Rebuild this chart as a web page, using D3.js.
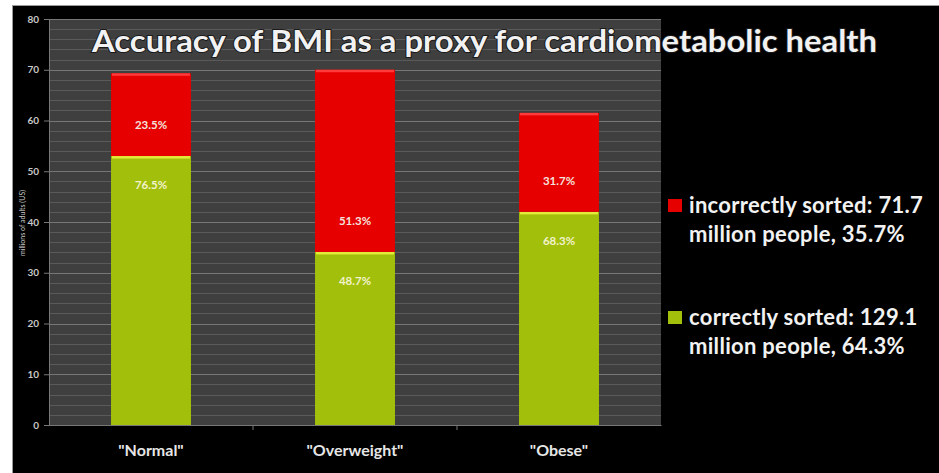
<!DOCTYPE html>
<html>
<head>
<meta charset="utf-8">
<script src="https://cdn.jsdelivr.net/npm/d3@7"></script>
<style>
  html, body { margin: 0; padding: 0; background: #fff; }
  svg { display: block; }
</style>
</head>
<body>
<svg id="chart" width="939" height="473"></svg>
<script>
// BMI categories and the adults (millions, US) in each, split by whether
// BMI sorted them correctly with respect to cardiometabolic health.
const categories = ['"Normal"', '"Overweight"', '"Obese"'];
const correctlySorted = [53.0, 34.1, 42.0];
const incorrectlySorted = [16.3, 35.9, 19.5];
const seriesNames = ["correctly sorted", "incorrectly sorted"];
const yTicks = [0, 10, 20, 30, 40, 50, 60, 70, 80];
const yMinorTicks = d3.range(0, 81, 2);
const titleText = "Accuracy of BMI as a proxy for cardiometabolic health";
const yAxisTitle = "millions of adults (US)";

const GREEN = "#a2bf0c", GREEN_TOP = "#e4ec3a";
const RED = "#e60000", RED_TOP = "#ff3a3a";
const FONT = "Lato, 'Open Sans', sans-serif";

const svg = d3.select("#chart");
const W = 939, H = 473;

// frame: white margin on top/left, black slide background
svg.append("rect").attr("width", W).attr("height", H).attr("fill", "#ffffff");
svg.append("rect").attr("x", 13).attr("y", 6).attr("width", W - 13).attr("height", H - 6).attr("fill", "#000");
svg.append("line").attr("x1", 12.5).attr("x2", 12.5).attr("y1", 6).attr("y2", H).attr("stroke", "#9a9a9a");
svg.append("line").attr("x1", 12).attr("x2", W).attr("y1", 5.5).attr("y2", 5.5).attr("stroke", "#9a9a9a");

const plot = { left: 49, right: 661, top: 19, bottom: 425 };

const y = d3.scaleLinear().domain([0, 80]).range([plot.bottom, plot.top]);
const x = d3.scaleBand().domain(categories).range([plot.left, plot.right])
  .paddingInner(0.608).paddingOuter(0.304);

// plot area
svg.append("rect")
  .attr("x", plot.left).attr("y", plot.top)
  .attr("width", plot.right - plot.left).attr("height", plot.bottom - plot.top)
  .attr("fill", "#3f3f3f");

// minor gridlines
svg.append("g").selectAll("line")
  .data(yMinorTicks.filter(v => v % 10 !== 0))
  .join("line")
  .attr("x1", plot.left).attr("x2", plot.right)
  .attr("y1", d => Math.round(y(d)) + 0.5).attr("y2", d => Math.round(y(d)) + 0.5)
  .attr("stroke", "#5a5a5a").attr("stroke-width", 1);

// major gridlines
svg.append("g").selectAll("line")
  .data(yTicks)
  .join("line")
  .attr("x1", plot.left).attr("x2", plot.right)
  .attr("y1", d => Math.round(y(d)) + 0.5).attr("y2", d => Math.round(y(d)) + 0.5)
  .attr("stroke", "#767676").attr("stroke-width", 1.2);

// y axis
const yAxis = svg.append("g")
  .attr("transform", `translate(${plot.left},0)`)
  .call(d3.axisLeft(y).tickValues(yTicks).tickSize(5).tickPadding(5));
yAxis.select(".domain").attr("stroke", "#777");
yAxis.selectAll(".tick line").attr("stroke", "#777");
yAxis.selectAll(".tick text")
  .attr("fill", "#c8c8c8")
  .attr("font-family", FONT)
  .attr("font-weight", "bold")
  .attr("font-size", 10);

svg.append("text")
  .attr("transform", `translate(25,${223}) rotate(-90)`)
  .attr("text-anchor", "middle")
  .attr("fill", "#c8c8c8")
  .attr("font-family", FONT)
  .attr("font-size", 7)
  .text(yAxisTitle);

// x axis: category separators and labels
const xAxis = svg.append("g")
  .attr("transform", `translate(0,${plot.bottom})`)
  .call(d3.axisBottom(x).tickSize(0).tickPadding(20));
xAxis.select(".domain").attr("stroke", "#777");
xAxis.selectAll(".tick text")
  .attr("fill", "#e6e6e6")
  .attr("font-family", FONT)
  .attr("font-weight", "bold")
  .attr("font-size", 16);
svg.append("g").selectAll("line")
  .data(categories.slice(1))
  .join("line")
  .attr("x1", d => x(d) - x.step() * x.paddingInner() / 2)
  .attr("x2", d => x(d) - x.step() * x.paddingInner() / 2)
  .attr("y1", plot.bottom).attr("y2", plot.bottom + 5)
  .attr("stroke", "#777");

// stacked bars
const rows = categories.map((c, i) => ({
  category: c,
  correct: correctlySorted[i],
  incorrect: incorrectlySorted[i]
}));
const stack = d3.stack().keys(["correct", "incorrect"])(rows);
const fills = { correct: GREEN, incorrect: RED };
const tops = { correct: GREEN_TOP, incorrect: RED_TOP };

const layers = svg.append("g").selectAll("g")
  .data(stack)
  .join("g");

layers.selectAll("rect.seg")
  .data(s => s.map(d => ({ key: s.key, d })))
  .join("rect")
  .attr("class", "seg")
  .attr("x", o => x(o.d.data.category))
  .attr("width", x.bandwidth())
  .attr("y", o => y(o.d[1]))
  .attr("height", o => y(o.d[0]) - y(o.d[1]))
  .attr("fill", o => fills[o.key]);

// thin highlight along the top edge of each segment
layers.selectAll("rect.edge")
  .data(s => s.map(d => ({ key: s.key, d })))
  .join("rect")
  .attr("class", "edge")
  .attr("x", o => x(o.d.data.category) + 1)
  .attr("width", x.bandwidth() - 2)
  .attr("y", o => y(o.d[1]))
  .attr("height", 2.5)
  .attr("fill", o => tops[o.key]);

// percentage labels, set just above / below the boundary between segments
const labels = [];
rows.forEach(r => {
  const total = r.correct + r.incorrect;
  const boundary = y(r.correct);
  labels.push({ category: r.category, text: (r.incorrect / total * 100).toFixed(1) + "%", y: boundary - 27, fill: "#f4e4dc" });
  labels.push({ category: r.category, text: (r.correct / total * 100).toFixed(1) + "%", y: boundary + 33, fill: "#f2f2cc" });
});
svg.append("g").selectAll("text")
  .data(labels)
  .join("text")
  .attr("x", d => x(d.category) + x.bandwidth() / 2)
  .attr("y", d => d.y)
  .attr("text-anchor", "middle")
  .attr("fill", d => d.fill)
  .attr("font-family", FONT)
  .attr("font-weight", "bold")
  .attr("font-size", 11.5)
  .text(d => d.text);

// title
svg.append("text")
  .attr("x", 484.5).attr("y", 52)
  .attr("text-anchor", "middle")
  .attr("fill", "#f2f2f2")
  .attr("font-family", FONT)
  .attr("font-weight", "bold")
  .attr("font-size", 30)
  .attr("textLength", 785)
  .attr("lengthAdjust", "spacingAndGlyphs")
  .style("paint-order", "stroke")
  .attr("stroke", "#1a1a1a").attr("stroke-width", 2)
  .text(titleText);

// legend with totals over all categories
const sumCorrect = d3.sum(correctlySorted);
const sumIncorrect = d3.sum(incorrectlySorted);
const grand = sumCorrect + sumIncorrect;
const legendItems = [
  { name: seriesNames[1], total: sumIncorrect, color: RED, y: 199 },
  { name: seriesNames[0], total: sumCorrect, color: GREEN, y: 311 }
];
const legend = svg.append("g").selectAll("g")
  .data(legendItems)
  .join("g")
  .attr("transform", d => `translate(668,${d.y})`);
legend.append("rect")
  .attr("width", 14).attr("height", 13)
  .attr("fill", d => d.color);
const lt = legend.append("text")
  .attr("fill", "#f2f2f2")
  .attr("font-family", FONT)
  .attr("font-weight", "bold")
  .attr("font-size", 22)
  .attr("letter-spacing", 0.3);
lt.append("tspan").attr("x", 21).attr("y", 14)
  .text(d => `${d.name}: ${d.total.toFixed(1)}`);
lt.append("tspan").attr("x", 21).attr("y", 43)
  .text(d => `million people, ${(d.total / grand * 100).toFixed(1)}%`);
</script>
</body>
</html>
